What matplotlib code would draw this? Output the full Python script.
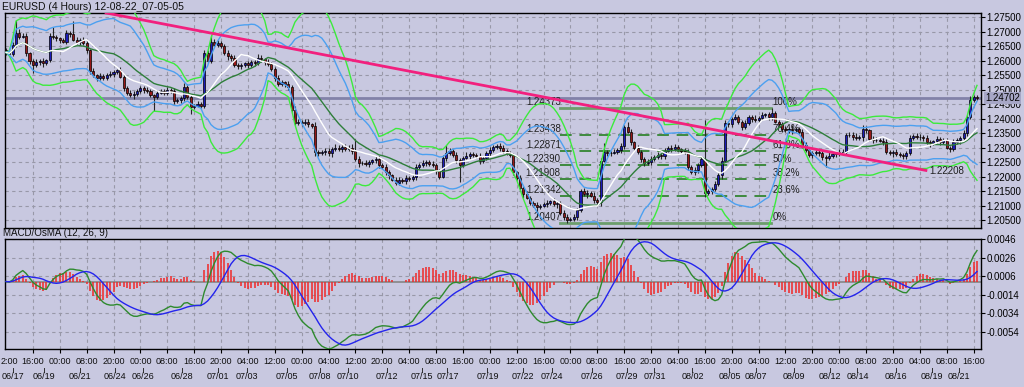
import numpy as np
import pandas as pd
import matplotlib
matplotlib.use('Agg')
import matplotlib.pyplot as plt
import matplotlib.transforms as mtransforms

plt.rcParams['font.family'] = ['Liberation Sans', 'DejaVu Sans']

BG = '#C8C8E0'

# 4H closes, in pips above 1.2000
close_pips = [
    628, 622, 655, 695, 682, 686, 625, 598, 585, 594,
    600, 590, 602, 685, 680, 676, 670, 665, 695, 690,
    672, 665, 670, 660, 635, 565, 550, 540, 546, 540,
    550, 555, 560, 566, 545, 505, 490, 480, 486, 495,
    505, 500, 495, 480, 474, 490, 495, 490, 498, 495,
    460, 465, 470, 510, 475, 440, 445, 450, 445, 625,
    600, 665, 655, 660, 650, 625, 615, 608, 585, 580,
    585, 590, 586, 595, 592, 610, 604, 595, 588, 572,
    540, 520, 525, 520, 508, 430, 385, 390, 385, 390,
    380, 375, 285, 280, 286, 290, 280, 295, 300, 296,
    302, 295, 300, 288, 262, 246, 248, 244, 250, 256,
    262, 240, 232, 215, 205, 190, 180, 190, 185, 195,
    192, 200, 235, 240, 246, 250, 244, 240, 220, 200,
    265, 282, 290, 275, 258, 240, 266, 272, 278, 275,
    270, 255, 265, 282, 292, 302, 306, 300, 288, 280,
    275, 215, 195, 160, 140, 128, 110, 104, 96, 100,
    105, 110, 115, 105, 110, 75, 62, 52, 56, 60,
    85, 150, 140, 145, 135, 120, 112, 255, 285, 280,
    283, 286, 292, 305, 370, 355, 318, 300, 285, 262,
    246, 252, 262, 268, 274, 270, 290, 300, 296, 302,
    294, 290, 286, 235, 215, 222, 240, 262, 145, 150,
    158, 175, 205, 255, 385, 380, 400, 405, 388, 372,
    385, 405, 400, 396, 402, 412, 415, 405, 418, 390,
    380, 365, 360, 366, 360, 364, 355, 310, 292, 275,
    280, 286, 280, 268, 265, 272, 278, 284, 280, 286,
    344, 345, 338, 334, 336, 365, 360, 330, 326, 328,
    324, 320, 285, 280, 285, 278, 274, 270, 280, 335,
    340, 336, 338, 332, 318, 316, 322, 330, 320, 326,
    300, 295, 320, 326, 335, 350, 405, 465, 476, 470.2,
]
first_open = 1.2635

# upper / lower shadow length in pips
wick_hi = [
    8, 6, 10, 45, 12, 8, 10, 6, 8, 10,
    6, 8, 5, 10, 30, 8, 6, 8, 10, 6,
    45, 8, 6, 10, 8, 6, 8, 5, 10, 8,
    6, 10, 8, 6, 12, 8, 6, 10, 8, 6,
    8, 6, 10, 8, 6, 10, 8, 6, 12, 8,
    10, 6, 8, 12, 10, 8, 6, 10, 8, 12,
    10, 23, 8, 10, 6, 8, 12, 6, 10, 8,
    8, 6, 10, 8, 6, 12, 8, 6, 10, 8,
    6, 10, 8, 6, 10, 8, 12, 8, 6, 10,
    8, 6, 12, 8, 6, 10, 8, 6, 12, 8,
    6, 10, 8, 12, 42, 8, 6, 10, 8, 6,
    10, 8, 6, 12, 8, 6, 10, 8, 6, 10,
    8, 6, 10, 8, 12, 6, 8, 10, 6, 8,
    10, 27, 8, 6, 10, 8, 6, 12, 8, 6,
    8, 10, 6, 8, 12, 8, 6, 10, 8, 6,
    10, 8, 6, 10, 8, 12, 6, 8, 10, 6,
    8, 10, 6, 12, 8, 6, 10, 8, 6, 10,
    8, 6, 10, 8, 6, 12, 8, 10, 30, 8,
    6, 10, 8, 12, 7, 20, 8, 6, 10, 8,
    6, 10, 8, 6, 12, 8, 10, 6, 8, 10,
    8, 6, 10, 8, 6, 12, 8, 10, 133, 8,
    6, 10, 8, 12, 10, 8, 6, 10, 8, 6,
    10, 8, 6, 12, 8, 10, 6, 8, 19, 8,
    6, 10, 8, 6, 12, 8, 6, 10, 8, 6,
    8, 6, 10, 8, 6, 12, 8, 6, 10, 8,
    6, 10, 8, 12, 6, 13, 8, 6, 10, 8,
    6, 8, 10, 6, 8, 12, 6, 8, 10, 8,
    6, 10, 8, 6, 12, 8, 6, 10, 8, 6,
    8, 6, 10, 8, 6, 10, 8, 12, 6, 4,
]
wick_lo = [
    10, 8, 6, 10, 8, 6, 8, 10, 28, 8,
    8, 12, 6, 8, 6, 10, 8, 6, 8, 10,
    6, 8, 10, 6, 8, 10, 8, 12, 6, 8,
    8, 6, 10, 8, 6, 10, 8, 6, 12, 8,
    6, 10, 8, 6, 49, 8, 6, 10, 8, 6,
    8, 6, 10, 8, 6, 23, 8, 6, 10, 8,
    10, 8, 6, 10, 8, 6, 12, 8, 6, 10,
    8, 6, 10, 8, 12, 6, 8, 10, 6, 8,
    10, 8, 6, 12, 8, 10, 6, 8, 10, 6,
    8, 6, 15, 8, 6, 10, 8, 12, 6, 8,
    10, 8, 6, 10, 8, 12, 6, 8, 10, 6,
    8, 10, 6, 8, 12, 6, 10, 8, 6, 10,
    8, 6, 10, 8, 6, 10, 8, 6, 12, 8,
    6, 10, 8, 6, 12, 57, 8, 6, 10, 8,
    6, 10, 8, 6, 12, 8, 6, 10, 8, 6,
    8, 10, 6, 8, 12, 6, 8, 10, 33, 8,
    6, 10, 8, 6, 12, 8, 10, 11, 6, 8,
    10, 6, 8, 12, 6, 10, 8, 12, 6, 8,
    10, 6, 8, 12, 8, 6, 10, 8, 6, 10,
    8, 6, 12, 8, 6, 10, 8, 6, 10, 8,
    6, 10, 8, 12, 6, 8, 10, 6, 14, 8,
    10, 6, 8, 12, 6, 8, 10, 6, 8, 10,
    6, 8, 10, 6, 12, 8, 6, 10, 8, 6,
    8, 10, 6, 8, 12, 6, 8, 10, 6, 8,
    10, 6, 8, 12, 30, 8, 6, 10, 8, 6,
    8, 6, 10, 8, 6, 12, 8, 6, 10, 8,
    6, 10, 8, 6, 12, 8, 6, 10, 8, 6,
    8, 6, 10, 8, 6, 12, 8, 6, 10, 8,
    6, 10, 8, 6, 12, 8, 10, 6, 8, 6,
]

last_price = 1.24702

fib_pct = ['0%', '23.6%', '38.2%', '50%', '61.8%', '76.4%', '100%']
fib_price = [1.20407, 1.21342, 1.21908, 1.22390, 1.22871, 1.23438, 1.24373]

trend_price = [1.27648, 1.22208]

# one time label every 8 bars, the first one cut by the left edge
time_labels = ['2:00', '16:00', '00:00', '08:00', '20:00', '00:00', '08:00', '16:00',
               '20:00', '04:00', '12:00', '00:00', '04:00', '12:00', '20:00', '04:00',
               '08:00', '16:00', '00:00', '12:00', '16:00', '00:00', '08:00', '16:00',
               '20:00', '04:00', '16:00', '20:00', '04:00', '12:00', '20:00', '00:00',
               '08:00', '20:00', '04:00', '08:00', '16:00']
date_labels = ['06/17', '06/19', '06/21', '06/24', '06/26', '06/28', '07/01', '07/03',
               '07/05', '07/08', '07/10', '07/12', '07/15', '07/17', '07/19', '07/22',
               '07/24', '07/26', '07/29', '07/31', '08/02', '08/05', '08/07', '08/09',
               '08/12', '08/14', '08/16', '08/19', '08/21']
date_bars = [2, 11.3, 22, 32.4, 40.7, 52.3, 63, 71.7, 83.6, 93.4, 101.7, 113.3, 123.7,
             131.4, 143.3, 153.8, 162.4, 174.3, 184.7, 193, 204.3, 215.3, 223.3, 234.6,
             245.1, 253.4, 265, 275.7, 283.7]

price_ticks = [1.205, 1.21, 1.215, 1.22, 1.225, 1.23, 1.235, 1.24, 1.245,
               1.25, 1.255, 1.26, 1.265, 1.27, 1.275]
macd_ticks = [0.0046, 0.0026, 0.0006, -0.0014, -0.0034, -0.0054]

# ---------------------------------------------------------------- data prep
closes = 1.2 + np.array(close_pips) / 10000.0
opens = np.r_[first_open, closes[:-1]]
highs = np.maximum(opens, closes) + np.array(wick_hi) / 10000.0
lows = np.minimum(opens, closes) - np.array(wick_lo) / 10000.0
n = len(closes)
x = np.arange(n)

s = pd.Series(closes)
mid = s.rolling(20, min_periods=1).mean()
sd = s.rolling(20, min_periods=1).std(ddof=0)
fast = s.rolling(12, min_periods=1).mean()
macd = s.ewm(span=12, adjust=False).mean() - s.ewm(span=26, adjust=False).mean()
signal = macd.rolling(9, min_periods=1).mean()
osma = macd - signal

# ---------------------------------------------------------------- figure
W, H = 1024, 387
fig = plt.figure(figsize=(W / 100, H / 100), dpi=100, facecolor=BG)
ax1 = fig.add_axes([5 / W, 1 - 228 / H, 976 / W, 215.3 / H], facecolor=BG)
ax2 = fig.add_axes([5 / W, 1 - 349 / H, 976 / W, 110 / H], facecolor=BG)

pitch = 3.3625
xlo, xhi = -1 / pitch, n - 1 + 4 / pitch
grid_x = np.arange(8, n, 8)

for ax in (ax1, ax2):
    ax.set_xlim(xlo, xhi)
    ax.set_xticks(grid_x)
    ax.grid(True, ls=(0, (3, 3)), color='#9898A8', lw=0.8, zorder=0)
    ax.set_axisbelow(True)
    ax.yaxis.tick_right()
    ax.tick_params(axis='y', direction='out', length=3, width=0.8, labelsize=7,
                   pad=1, colors='black')
    for sp in ax.spines.values():
        sp.set_color('black')
        sp.set_linewidth(1.0)

ax1.tick_params(axis='x', length=0, labelbottom=False)
ax2.tick_params(axis='x', length=3, direction='out', labelbottom=False)

# ---- main chart
ax1.set_ylim(1.20234, 1.27648)
ax1.set_yticks(price_ticks)
ax1.set_yticklabels(['%.5f' % p for p in price_ticks])

ax1.axhline(last_price, color='#8282A8', lw=2, zorder=1)

fx0, fx1 = 164.8, 227.8
for pct, pr in zip(fib_pct, fib_price):
    if pct in ('0%', '100%'):
        ax1.plot([fx0, fx1], [pr, pr], color='#6C9E6C', lw=2, zorder=1.5)
    else:
        ax1.plot([fx0, fx1], [pr, pr], color='#3E8A3E', lw=1.4,
                 ls=(0, (6, 4)), zorder=1.5)
    ax1.text(fx0 + 0.3, pr + 0.0004, '%.5f' % pr, ha='right', va='bottom',
             fontsize=7, color='#202020', zorder=1.6)
    ax1.text(fx1 + 0.3, pr + 0.0004, pct, ha='left', va='bottom',
             fontsize=7, color='#202020', zorder=1.6)

# candles
up = closes >= opens
ax1.vlines(x, lows, highs, color='#252525', lw=0.8, zorder=3)
body_lo = np.minimum(opens, closes)
body_h = np.maximum(np.abs(closes - opens), 0.00005)
ax1.bar(x[up], body_h[up], bottom=body_lo[up], width=0.62, color='#1C1CB8',
        edgecolor='black', linewidth=0.5, zorder=3.2)
ax1.bar(x[~up], body_h[~up], bottom=body_lo[~up], width=0.62, color='#961818',
        edgecolor='black', linewidth=0.5, zorder=3.2)

# bands and averages
ax1.plot(x, mid + 3 * sd, color='#3CEB3C', lw=1, zorder=3.5)
ax1.plot(x, mid - 3 * sd, color='#3CEB3C', lw=1, zorder=3.5)
ax1.plot(x, mid + 2 * sd, color='#4CA0F0', lw=1, zorder=3.5)
ax1.plot(x, mid - 2 * sd, color='#4CA0F0', lw=1, zorder=3.5)
ax1.plot(x, mid, color='#2E7E3A', lw=1, zorder=3.5)
ax1.plot(x, fast, color='white', lw=1, zorder=3.5)

# trend line
t0, t1 = 29.4, 274.2
ax1.plot([t0, t1], trend_price, color='#F2207E', lw=2, zorder=4, solid_capstyle='butt')
ax1.text(t1 + 0.6, trend_price[1], '%.5f' % trend_price[1], ha='left', va='center',
         fontsize=7, color='#202020', zorder=4)

# last price tag on the axis
trans = mtransforms.blended_transform_factory(ax1.transAxes, ax1.transData)
ax1.text(1.004, last_price, '%.5f' % last_price, transform=trans, ha='left',
         va='center', fontsize=7, color='black', clip_on=False,
         bbox=dict(facecolor='#A6A6C6', edgecolor='none', pad=0.8))

# ---- MACD panel
ax2.set_ylim(-0.00729, 0.0046)
ax2.set_yticks(macd_ticks)
ax2.set_yticklabels(['%.4f' % v for v in macd_ticks])
ax2.axhline(0, color='#858585', lw=1.2, zorder=1)
ax2.vlines(x, 0, osma, color='#F02828', lw=1.1, zorder=2)
ax2.plot(x, macd, color='#2E8A2E', lw=1, zorder=3)
ax2.plot(x, signal, color='#2424EE', lw=1, zorder=3)

# time axis labels
tr2 = mtransforms.blended_transform_factory(ax2.transData, ax2.transAxes)
for j, lab in enumerate(time_labels):
    if j == 0:
        fig.text(0.5 / W, 1 - 361 / H, lab, ha='left', va='center',
                 fontsize=6.5, color='#101010')
        continue
    ax2.text(8 * j, -0.11, lab, transform=tr2, ha='center', va='center',
             fontsize=6.5, color='#101010', clip_on=False)
for b, lab in zip(date_bars, date_labels):
    ax2.text(b, -0.25, lab, transform=tr2, ha='center', va='center',
             fontsize=6.5, color='#101010', clip_on=False)
    ax2.plot([b, b], [-0.17, -0.205], transform=tr2, color='#303030', lw=0.7,
             clip_on=False)

fig.text(2 / W, 1 - 6.5 / H, 'EURUSD (4 Hours) 12-08-22_07-05-05', ha='left',
         va='center', fontsize=7.5, color='#101010')
fig.text(3 / W, 1 - 233.5 / H, 'MACD/OsMA (12, 26, 9)', ha='left', va='center',
         fontsize=7, color='#101010')

fig.savefig('out.png', dpi=100, facecolor=BG)
